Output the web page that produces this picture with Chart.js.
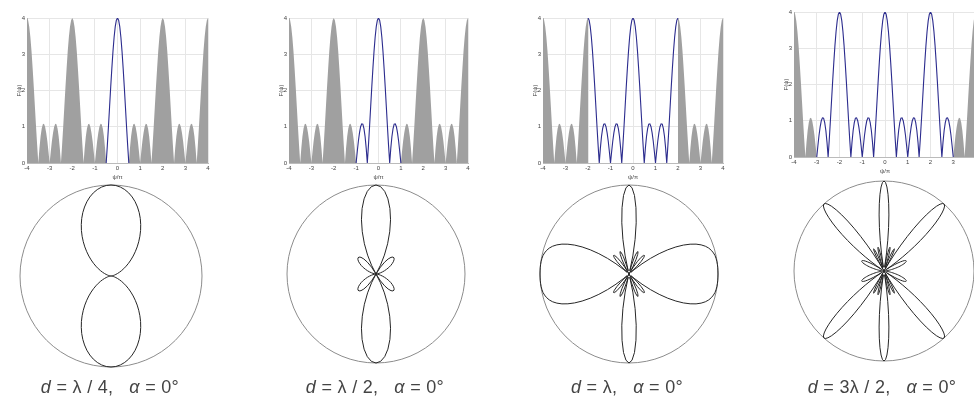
<!DOCTYPE html>
<html>
<head>
<meta charset="utf-8">
<script src="https://cdn.jsdelivr.net/npm/chart.js@4.4.0/dist/chart.umd.min.js"></script>
<style>
  html, body { margin: 0; padding: 0; background: #fff; }
  body { width: 974px; height: 401px; position: relative; overflow: hidden; font-family: "Liberation Sans", Arial, sans-serif; }
  #fig { position: absolute; left: 0; top: 0; width: 974px; height: 401px; filter: blur(0.4px); }
  canvas { position: absolute; }
  .cap { position: absolute; top: 377px; width: 200px; text-align: center; font-size: 18px; color: #444; white-space: pre; letter-spacing: 0.3px; }
</style>
</head>
<body>
<div id="fig">
<canvas id="af1" width="203" height="185" style="left:12px;top:0px"></canvas>
<canvas id="af2" width="201" height="185" style="left:274px;top:0px"></canvas>
<canvas id="af3" width="202" height="185" style="left:528px;top:0px"></canvas>
<canvas id="af4" width="204" height="185" style="left:779px;top:-6px"></canvas>

<canvas id="pat1" width="192" height="192" style="left:15px;top:180px"></canvas>
<canvas id="pat2" width="188" height="188" style="left:282px;top:180px"></canvas>
<canvas id="pat3" width="188" height="188" style="left:535px;top:180px"></canvas>
<canvas id="pat4" width="190" height="190" style="left:789px;top:176px"></canvas>

<div class="cap" style="left:10px"><i>d</i> = λ / 4,   <i>α</i> = 0°</div>
<div class="cap" style="left:275px"><i>d</i> = λ / 2,   <i>α</i> = 0°</div>
<div class="cap" style="left:527px"><i>d</i> = λ,   <i>α</i> = 0°</div>
<div class="cap" style="left:782px"><i>d</i> = 3λ / 2,   <i>α</i> = 0°</div>
</div>

<script>
// ψ/π sample grid, -4 .. 4 every 0.05
const psi = [];
for (let i = 0; i <= 160; i++) psi.push(Math.round((-4 + i * 0.05) * 100) / 100);

// |AF(ψ)| of the four-element array at each ψ sample
const afValues = [
  4, 3.94, 3.76, 3.47, 3.08, 2.61, 2.10, 1.55, 1.00, 0.48, 0, 0.41, 0.73, 0.95, 1.07, 1.08, 1.00, 0.83, 0.60, 0.31, 0, 0.31, 0.60, 0.83, 1.00, 1.08, 1.07, 0.95, 0.73, 0.41, 0, 0.48, 1.00, 1.55, 2.10, 2.61, 3.08, 3.47, 3.76, 3.94,
  4, 3.94, 3.76, 3.47, 3.08, 2.61, 2.10, 1.55, 1.00, 0.48, 0, 0.41, 0.73, 0.95, 1.07, 1.08, 1.00, 0.83, 0.60, 0.31, 0, 0.31, 0.60, 0.83, 1.00, 1.08, 1.07, 0.95, 0.73, 0.41, 0, 0.48, 1.00, 1.55, 2.10, 2.61, 3.08, 3.47, 3.76, 3.94,
  4, 3.94, 3.76, 3.47, 3.08, 2.61, 2.10, 1.55, 1.00, 0.48, 0, 0.41, 0.73, 0.95, 1.07, 1.08, 1.00, 0.83, 0.60, 0.31, 0, 0.31, 0.60, 0.83, 1.00, 1.08, 1.07, 0.95, 0.73, 0.41, 0, 0.48, 1.00, 1.55, 2.10, 2.61, 3.08, 3.47, 3.76, 3.94,
  4, 3.94, 3.76, 3.47, 3.08, 2.61, 2.10, 1.55, 1.00, 0.48, 0, 0.41, 0.73, 0.95, 1.07, 1.08, 1.00, 0.83, 0.60, 0.31, 0, 0.31, 0.60, 0.83, 1.00, 1.08, 1.07, 0.95, 0.73, 0.41, 0, 0.48, 1.00, 1.55, 2.10, 2.61, 3.08, 3.47, 3.76, 3.94,
  4
];

// half-width of the visible region (in ψ/π) for d = λ/4, λ/2, λ, 3λ/2
const visibleLimit = [0.5, 1, 2, 3];

// normalised pattern for one quadrant, from the array axis (0°) to broadside (90°)
// d = λ/4, every 3°
const pattern1 = [0, 0.002, 0.006, 0.014, 0.025, 0.039, 0.056, 0.077, 0.102, 0.130, 0.162, 0.198, 0.238, 0.281, 0.328, 0.377,
  0.430, 0.484, 0.540, 0.597, 0.653, 0.709, 0.762, 0.812, 0.858, 0.899, 0.934, 0.962, 0.983, 0.996, 1];
// d = λ/2, every 3°
const pattern2 = [0, 0.002, 0.009, 0.019, 0.034, 0.053, 0.076, 0.102, 0.130, 0.161, 0.191, 0.219, 0.244, 0.262, 0.272, 0.269,
  0.252, 0.217, 0.164, 0.092, 0, 0.109, 0.232, 0.364, 0.499, 0.631, 0.752, 0.855, 0.934, 0.983, 1];
// d = λ, every 2°
const pattern3 = [1, 1, 1, 0.999, 0.998, 0.994, 0.989, 0.978, 0.963, 0.942, 0.913, 0.874, 0.825, 0.764, 0.692, 0.608,
  0.513, 0.409, 0.299, 0.186, 0.075, 0.030, 0.122, 0.196, 0.247, 0.271, 0.266, 0.232, 0.172, 0.092, 0,
  0.094, 0.178, 0.241, 0.271, 0.260, 0.205, 0.104, 0.037, 0.208, 0.395, 0.581, 0.749, 0.884, 0.970, 1];
// d = 3λ/2, every 1°
const pattern4 = [0, 0.001, 0.003, 0.007, 0.012, 0.018, 0.026, 0.035, 0.046, 0.058,
  0.071, 0.085, 0.101, 0.117, 0.134, 0.152, 0.170, 0.187, 0.205, 0.221,
  0.236, 0.250, 0.260, 0.268, 0.272, 0.271, 0.266, 0.254, 0.236, 0.211,
  0.179, 0.139, 0.091, 0.035, 0.029, 0.100, 0.178, 0.261, 0.348, 0.438,
  0.529, 0.618, 0.703, 0.782, 0.852, 0.911, 0.957, 0.987, 1.000, 0.994,
  0.969, 0.925, 0.861, 0.781, 0.686, 0.579, 0.463, 0.343, 0.222, 0.107,
  0, 0.093, 0.170, 0.226, 0.261, 0.272, 0.261, 0.229, 0.179, 0.114,
  0.041, 0.036, 0.111, 0.178, 0.230, 0.263, 0.272, 0.255, 0.211, 0.140,
  0.045, 0.071, 0.203, 0.344, 0.487, 0.625, 0.749, 0.854, 0.934, 0.984,
  1];

const smallFont = { size: 6, family: 'Liberation Sans' };

function drawAF(id, limit) {
  const pts = psi.map((x, i) => ({ x: x, y: afValues[i] }));
  const inside = pts.filter(p => Math.abs(p.x) <= limit);
  const leftOut = pts.filter(p => p.x <= -limit);
  const rightOut = pts.filter(p => p.x >= limit);
  const shade = { borderWidth: 0, backgroundColor: '#a0a0a0', pointRadius: 0, fill: 'origin' };
  new Chart(document.getElementById(id), {
    type: 'line',
    data: {
      datasets: [
        { data: inside, borderColor: '#2c2c8e', borderWidth: 1.1, pointRadius: 0, fill: false },
        Object.assign({ data: leftOut }, shade),
        Object.assign({ data: rightOut }, shade)
      ]
    },
    options: {
      animation: false,
      responsive: false,
      layout: { padding: { top: 18, right: 7, bottom: 0, left: 0 } },
      plugins: { legend: { display: false }, tooltip: { enabled: false } },
      scales: {
        x: {
          type: 'linear', min: -4, max: 4,
          ticks: { stepSize: 1, font: smallFont, color: '#444', padding: 2, maxRotation: 0 },
          grid: { color: '#e6e6e6', drawTicks: false },
          border: { color: '#bbb' },
          title: { display: true, text: 'ψ/π', font: smallFont, color: '#444', padding: { top: 0, bottom: 4 } },
          afterFit: s => { s.height = 22; }
        },
        y: {
          min: 0, max: 4,
          ticks: { stepSize: 1, font: smallFont, color: '#444', padding: 2 },
          grid: { color: '#e6e6e6', drawTicks: false },
          border: { color: '#bbb' },
          title: { display: true, text: 'F(ψ)', font: smallFont, color: '#444', padding: { top: 4, bottom: 0 } },
          afterFit: s => { s.width = 15; }
        }
      }
    }
  });
}

// the pattern is symmetric about both axes; radar index 0 points up and runs clockwise
function fullRing(q) {
  const down = q.slice(1).reverse();
  const up = q.slice(0, -1);
  return down.concat(up, down, up);
}

function drawPattern(id, quarter) {
  const ring = fullRing(quarter);
  new Chart(document.getElementById(id), {
    type: 'radar',
    data: {
      labels: ring.map((_, i) => i),
      datasets: [{ data: ring, borderColor: '#262626', borderWidth: 1, pointRadius: 0, fill: false, tension: 0 }]
    },
    options: {
      animation: false,
      responsive: false,
      layout: { padding: 5 },
      plugins: { legend: { display: false }, tooltip: { enabled: false } },
      scales: {
        r: {
          min: 0, max: 1,
          ticks: { display: false, stepSize: 1 },
          pointLabels: { display: false },
          angleLines: { display: false },
          grid: { circular: true, color: '#8c8c8c', lineWidth: 1 }
        }
      }
    }
  });
}

['af1', 'af2', 'af3', 'af4'].forEach((id, i) => drawAF(id, visibleLimit[i]));
drawPattern('pat1', pattern1);
drawPattern('pat2', pattern2);
drawPattern('pat3', pattern3);
drawPattern('pat4', pattern4);
</script>
</body>
</html>
